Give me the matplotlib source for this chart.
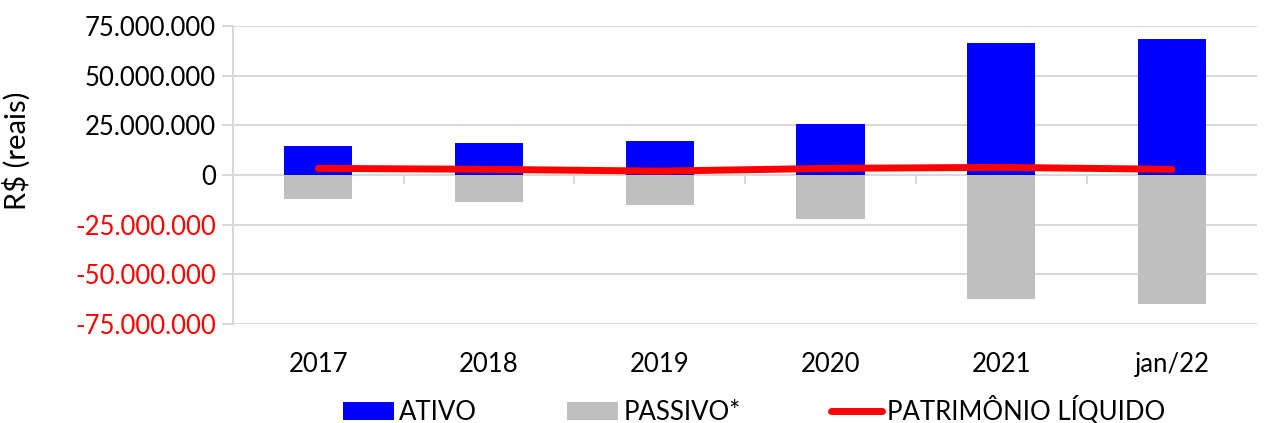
import matplotlib.pyplot as plt
import numpy as np
from matplotlib.ticker import FuncFormatter

categories = ['2017', '2018', '2019', '2020', '2021', 'jan/22']
ativo = [14.6e6, 16.3e6, 17.2e6, 25.5e6, 66.6e6, 68.2e6]
passivo = [-12.1e6, -13.7e6, -15.3e6, -22.0e6, -62.6e6, -64.8e6]
patrimonio = [3.3e6, 2.8e6, 1.9e6, 3.3e6, 3.8e6, 2.8e6]
yticks = [-75e6, -50e6, -25e6, 0, 25e6, 50e6, 75e6]

plt.rcParams['font.family'] = ['Lato', 'DejaVu Sans']

fig = plt.figure(figsize=(12.65, 4.23), dpi=100)
ax = fig.add_axes([0.184, 0.234, 0.81, 0.705])

x = np.arange(len(categories))
w = 0.4
h1 = ax.bar(x, ativo, width=w, color='#0000ff', label='ATIVO', zorder=2)
h2 = ax.bar(x, passivo, width=w, color='#bfbfbf', label='PASSIVO*', zorder=2)
h3, = ax.plot(x, patrimonio, color='#ff0000', linewidth=5, solid_capstyle='round',
              label='PATRIMÔNIO LÍQUIDO', zorder=3)

ax.set_xlim(-0.5, len(categories) - 0.5)
ax.set_ylim(-75e6, 75e6)
ax.set_yticks(yticks)
ax.yaxis.set_major_formatter(FuncFormatter(lambda v, p: f'{int(v):,}'.replace(',', '.')))
ax.grid(axis='y', color='#d9d9d9', linewidth=1.5, zorder=0)
ax.set_axisbelow(True)

# zero axis line with category separators
ax.axhline(0, color='#d9d9d9', linewidth=1.5, zorder=1)
for b in np.arange(0.5, len(categories) - 0.5, 1):
    ax.plot([b, b], [0, -4e6], color='#d9d9d9', linewidth=1.5, zorder=1)

for s in ['top', 'right', 'bottom']:
    ax.spines[s].set_visible(False)
ax.spines['left'].set_color('#d9d9d9')
ax.spines['left'].set_linewidth(1.5)

ax.set_xticks(x)
ax.set_xticklabels(categories)
ax.tick_params(axis='x', length=0, labelsize=18.5, pad=20)
ax.tick_params(axis='y', length=8, color='#d9d9d9', width=1.5, labelsize=18.5, pad=4)
for lbl, v in zip(ax.get_yticklabels(), yticks):
    lbl.set_color('#ff0000' if v < 0 else 'black')

ax.set_ylabel('R$ (reais)', fontsize=21)
ax.yaxis.set_label_coords(-0.197, 0.58)

fig.legend([h1, h2, h3], ['ATIVO', 'PASSIVO*', 'PATRIMÔNIO LÍQUIDO'],
           loc='center', bbox_to_anchor=(0.596, 0.03), ncol=3, frameon=False,
           fontsize=18.5, handlelength=2.0, handleheight=0.7, handletextpad=0.2,
           columnspacing=3.5)

fig.savefig('out.png', dpi=100)
